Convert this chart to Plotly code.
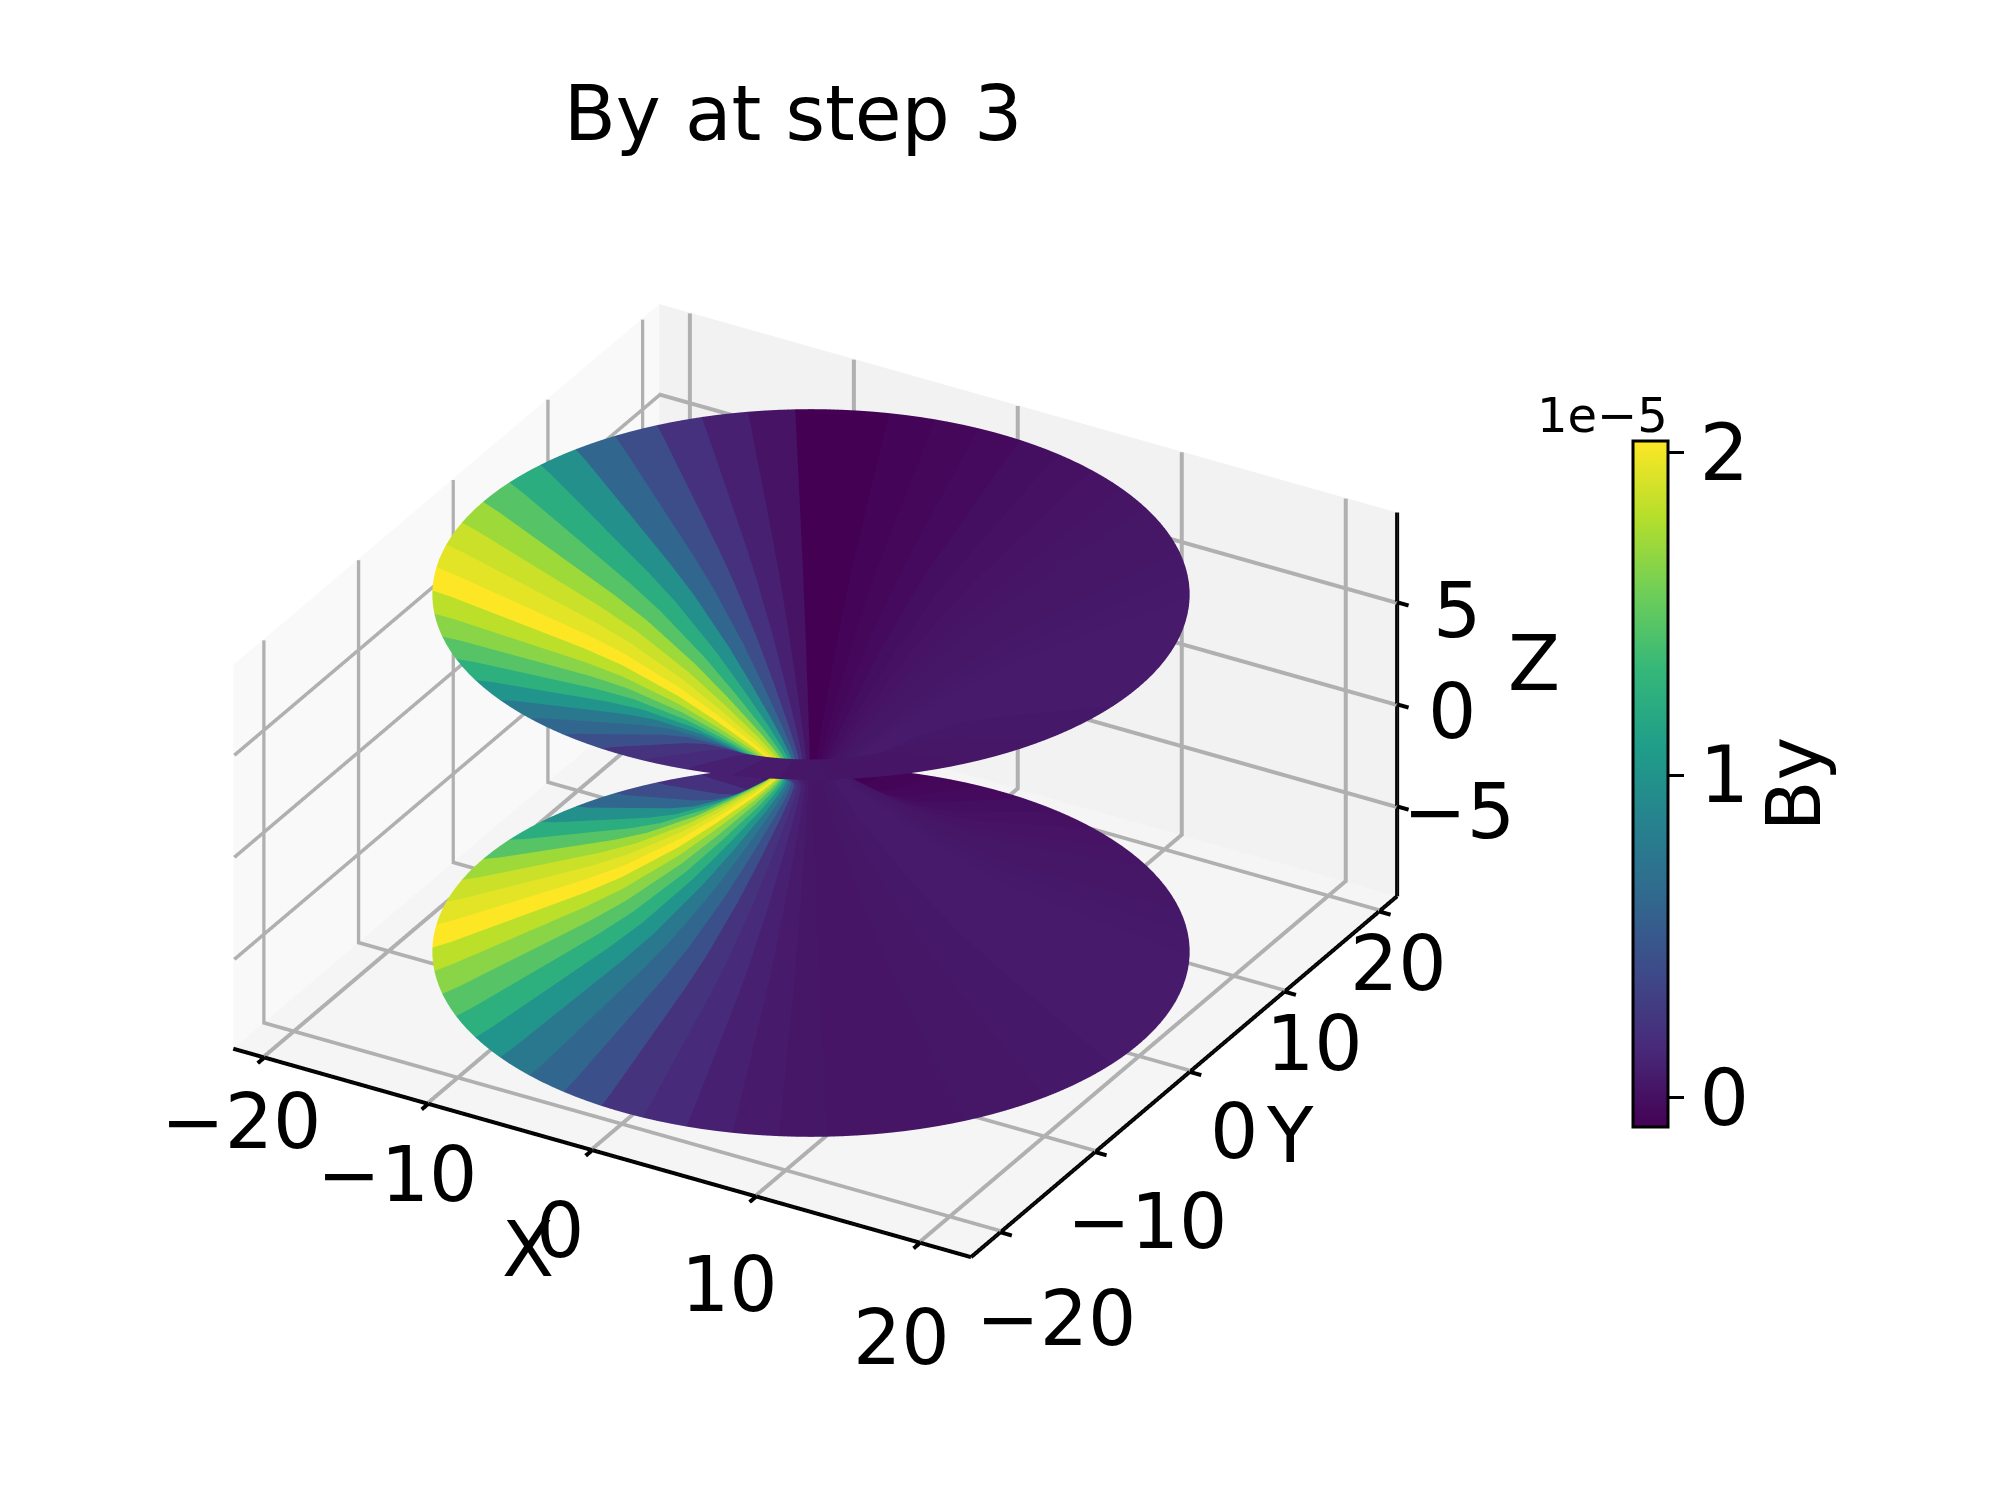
import numpy as np
import plotly.graph_objects as go

# ring radius / height of the upper sheet
ring_r = [1.6, 1.7, 1.9, 2.2, 2.6, 3, 4, 5, 6, 7, 8, 9, 10, 11, 12, 13, 14, 15, 16, 17, 18, 19, 20]
ring_z = [0, 0.15, 0.35, 0.6, 0.9, 1.2, 1.85, 2.5, 3.1, 3.7, 4.2, 4.7, 5.2, 5.6, 6, 6.35, 6.7, 7.05,
          7.4, 7.75, 8.1, 8.45, 8.75]

# By (x 1e-5) for each of the 50 azimuth bands, starting at azimuth 0
by_band = [0.06, 0.06, 0.06, 0.06, 0.055, 0.05, 0.04, 0.04, 0.03, 0.02,
           0.01, 0, -0.03, -0.05, -0.07, -0.09, -0.09, 0.02, 0.10, 0.21,
           0.42, 0.61, 0.97, 1.23, 1.46, 1.72, 1.87, 1.95, 2.035, 1.82,
           1.65, 1.46, 1.25, 1.02, 0.76, 0.61, 0.44, 0.23, 0.165, 0.10,
           0.06, 0.04, 0.03, 0.03, 0.03, 0.04, 0.04, 0.05, 0.05, 0.06]

xy_ticks = [-20, -10, 0, 10, 20]
z_ticks = [-5, 0, 5]
cbar_ticks = [0, 1, 2]

xy_lim = 22.5
z_lim = 9.4
box_shift = 0.6  # box sits a little off the data, towards the viewer
pad = 3.2  # scene range past the panes, so outward ticks are not clipped
eye = dict(x=1.744, y=-3.02, z=1.956)
xy_scale = 0.02576  # scene units per data unit
z_scale = 0.03184
tick_size = 76
sub = 3  # each band is split so the rim stays round

# pixel shifts of the tick labels from their ticks
x_label_dx = [-23, -31, -32, -27, -19]
x_label_dy = [-64, -71, -80, -88, -95]
y_label_dx = [56, 52, 44, 30, 19]
y_label_dy = [-86, -69, -60, -52, -52]
z_label_dx = [62, 55, 60]
z_label_dy = [-5, -7, -8]

r = np.array(ring_r[::-1] + ring_r[1:])
z = np.array(ring_z[::-1] + [-v for v in ring_z[1:]])
n_band = len(by_band)
n_cell = n_band * sub
theta = np.radians(np.arange(n_cell + 1) * 360 / n_cell)

R, T = np.meshgrid(r, theta, indexing='ij')
Z = np.repeat(z[:, None], n_cell + 1, axis=1)
X = R * np.cos(T)
Y = R * np.sin(T)

i, j, k, cell = [], [], [], []
nc = n_cell + 1
for a in range(len(r) - 1):
    for b in range(n_cell):
        p0 = a * nc + b
        p1 = p0 + 1
        p2 = p0 + nc
        p3 = p2 + 1
        i += [p0, p1]
        j += [p1, p3]
        k += [p2, p2]
        cell += [by_band[b // sub], by_band[b // sub]]

flat = dict(ambient=1, diffuse=0, specular=0, fresnel=0, roughness=1)

fig = go.Figure(go.Mesh3d(x=X.ravel(), y=Y.ravel(), z=Z.ravel(), i=i, j=j, k=k,
                          intensity=cell, intensitymode='cell',
                          colorscale='Viridis', cmin=-0.09, cmax=2.035,
                          flatshading=True, lighting=flat, hoverinfo='skip',
                          colorbar=dict(x=1625 / 2000, xanchor='left', xpad=0, y=0.4827, yanchor='middle', ypad=0,
                                        lenmode='pixels', len=686, thickness=35,
                                        outlinecolor='black', outlinewidth=3,
                                        ticks='outside', ticklen=15, tickwidth=3, tickcolor='black',
                                        tickvals=cbar_ticks, tickfont=dict(size=78),
                                        title=dict(text='By', side='right', font=dict(size=74)))))

x0, x1 = -xy_lim + box_shift, xy_lim + box_shift
y0, y1 = -xy_lim - box_shift, xy_lim - box_shift
H = z_lim


def add_pane(px, py, pz, color):
    fig.add_trace(go.Mesh3d(x=px, y=py, z=pz, i=[0, 0], j=[1, 2], k=[2, 3], color=color,
                            flatshading=True, lighting=flat, hoverinfo='skip', showscale=False))


add_pane([x0, x0, x0, x0], [y0, y1, y1, y0], [-H, -H, H, H], '#f9f9f9')
add_pane([x0, x1, x1, x0], [y1, y1, y1, y1], [-H, -H, H, H], '#f2f2f2')
add_pane([x0, x1, x1, x0], [y0, y0, y1, y1], [-H, -H, -H, -H], '#f5f5f5')


def add_segments(segments, color, width):
    # gl3d axes ignore line widths and put the z axis on the wrong corner, so draw them as lines
    xs, ys, zs = [], [], []
    for a, b in segments:
        xs += [a[0], b[0], None]
        ys += [a[1], b[1], None]
        zs += [a[2], b[2], None]
    fig.add_trace(go.Scatter3d(x=xs, y=ys, z=zs, mode='lines', line=dict(color=color, width=width),
                               hoverinfo='skip', showlegend=False))


g = 0.06  # keep grid just off the panes
grid = []
for t in xy_ticks:
    grid += [((t, y0, -H + g), (t, y1, -H + g)), ((x0, t, -H + g), (x1, t, -H + g)),
             ((t, y1 - g, -H), (t, y1 - g, H)), ((x0 + g, t, -H), (x0 + g, t, H))]
for t in z_ticks:
    grid += [((x0 + g, y0, t), (x0 + g, y1, t)), ((x0, y1 - g, t), (x1, y1 - g, t))]
add_segments(grid, '#b0b0b0', 8)

spines = [((x0, y0, -H), (x1, y0, -H)), ((x1, y0, -H), (x1, y1, -H)), ((x1, y1, -H), (x1, y1, H))]
for t in xy_ticks:
    spines += [((t, y0 + 0.5, -H), (t, y0 - 0.7, -H)), ((x1 - 0.5, t, -H), (x1 + 0.7, t, -H))]
for t in z_ticks:
    spines += [((x1 - 0.5, y1, t), (x1 + 0.7, y1, t))]
add_segments(spines, 'black', 8)

axis = dict(showgrid=False, showline=False, ticks='', showticklabels=False, title=dict(text=''),
            showspikes=False, zeroline=False, showbackground=False)


def label(text, x, y, z, dx, dy, size=tick_size):
    return dict(text=text, x=x, y=y, z=z, xshift=dx, yshift=dy, showarrow=False,
                xanchor='center', yanchor='middle', font=dict(size=size))


def tick_text(t):
    return str(t).replace('-', '\u2212')


labels = []
for n, t in enumerate(xy_ticks):
    labels.append(label(tick_text(t), t, y0, -H, x_label_dx[n], x_label_dy[n]))
    labels.append(label(tick_text(t), x1, t, -H, y_label_dx[n], y_label_dy[n]))
for n, t in enumerate(z_ticks):
    labels.append(label(tick_text(t), x1, y1, t, z_label_dx[n], z_label_dy[n]))
labels.append(label('X', 0, y0, -H, -64, -99))
labels.append(label('Y', x1, 0, -H, 100, -64))
labels.append(label('Z', x1, y1, 0, 137, 41))

lim = xy_lim + box_shift + pad
fig.update_layout(
    width=2000, height=1500,
    margin=dict(l=0, r=0, t=0, b=0),
    paper_bgcolor='white',
    font=dict(family='DejaVu Sans', color='black'),
    title=dict(text='By at step 3', x=0.3925, xanchor='center', y=0.93, yanchor='middle',
               font=dict(size=76)),
    scene=dict(
        domain=dict(x=[0, 0.803], y=[0, 0.98]),
        aspectmode='manual',
        aspectratio=dict(x=xy_scale * 2 * lim, y=xy_scale * 2 * lim, z=z_scale * 2 * (H + pad)),
        camera=dict(eye=eye, up=dict(x=0, y=0, z=1), projection=dict(type='orthographic')),
        xaxis=dict(axis, range=[-lim, lim]),
        yaxis=dict(axis, range=[-lim, lim]),
        zaxis=dict(axis, range=[-H - pad, H + pad]),
        annotations=labels,
    ),
    annotations=[dict(text='1e\u22125', x=1594 / 2000, y=1 - 407 / 1500, xref='paper', yref='paper',
                      xanchor='center', yanchor='middle', showarrow=False, font=dict(size=48))],
)

fig.write_html("out.html")
